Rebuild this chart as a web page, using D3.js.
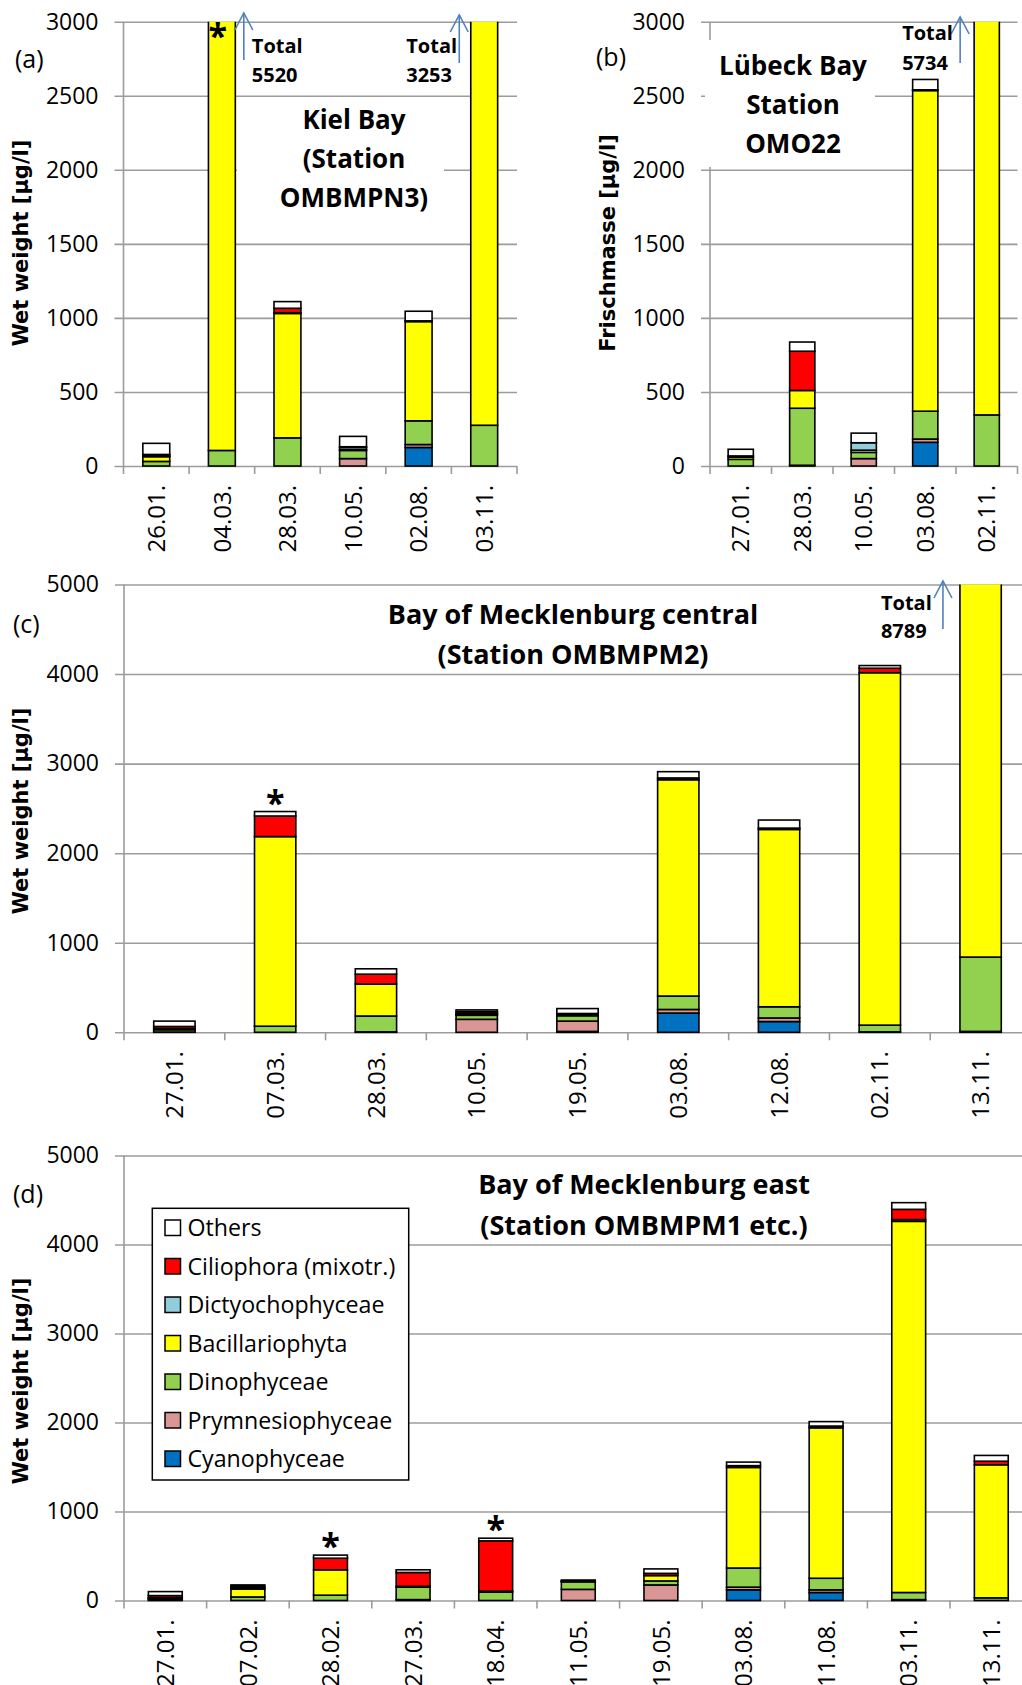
<!DOCTYPE html>
<html><head><meta charset="utf-8">
<script src="https://cdn.jsdelivr.net/npm/d3@7"></script>
<style>
body{margin:0;background:#fff;}
svg{display:block;font-family:'Open Sans',sans-serif;}
</style></head><body>
<svg id="chart" width="1022" height="1685"></svg>
<script>
// ---------- series ----------
const seriesKeys = ["Cyanophyceae","Prymnesiophyceae","Dinophyceae","Bacillariophyta","Dictyochophyceae","Ciliophora (mixotr.)","Others"];
const seriesColors = ["#0070C0","#D99694","#92D050","#FFFF00","#92CDDC","#FF0000","#FFFFFF"];

// ---------- (a) Kiel Bay ----------
const datesA  = ["26.01.","04.03.","28.03.","10.05.","02.08.","03.11."];
const cyanoA  = [0,   0,    0,   0,  125,  0];
const prymA   = [0,   0,    0,   50, 20,   0];
const dinoA   = [31,  105,  190, 55, 160,  275];
const bacilA  = [32,  5395, 840, 5,  670,  2950];
const dictyA  = [5,   0,    5,   15, 0,    0];
const cilioA  = [10,  0,    30,  5,  5,    0];
const othersA = [75,  20,   45,  70, 65,   28];
const ticksA  = [0,500,1000,1500,2000,2500,3000];

// ---------- (b) Lübeck Bay ----------
const datesB  = ["27.01.","28.03.","10.05.","03.08.","02.11."];
const cyanoB  = [0,  0,   0,  160,  0];
const prymB   = [0,  5,   50, 22,   0];
const dinoB   = [45, 385, 42, 188,  345];
const bacilB  = [15, 120, 15, 2165, 5370];
const dictyB  = [0,  0,   50, 0,    0];
const cilioB  = [8,  265, 0,  5,    0];
const othersB = [45, 62,  65, 70,   19];
const ticksB  = [0,500,1000,1500,2000,2500,3000];

// ---------- (c) Bay of Mecklenburg central ----------
const datesC  = ["27.01.","07.03.","28.03.","10.05.","19.05.","03.08.","12.08.","02.11.","13.11."];
const cyanoC  = [0,  0,    0,   0,   10,  215,  120,  0,    0];
const prymC   = [3,  0,    5,   145, 115, 40,   40,   5,    10];
const dinoC   = [25, 68,   177, 45,  60,  150,  125,  75,   830];
const bacilC  = [12, 2117, 357, 10,  15,  2415, 1980, 3935, 7920];
const dictyC  = [0,  0,    0,   10,  0,   0,    0,    0,    0];
const cilioC  = [25, 230,  110, 20,  10,  20,   15,   50,   0];
const othersC = [60, 50,   60,  20,  55,  70,   90,   30,   29];
const ticksC  = [0,1000,2000,3000,4000,5000];

// ---------- (d) Bay of Mecklenburg east ----------
const datesD  = ["27.01.","07.02.","28.02.","27.03.","18.04.","11.05.","19.05.","03.08.","11.08.","03.11.","13.11."];
const cyanoD  = [0,  0,  0,   0,   0,   0,   0,   120,  90,   0,    0];
const prymD   = [10, 0,  0,   10,  0,   125, 175, 30,   30,   10,   0];
const dinoD   = [15, 40, 60,  140, 95,  85,  45,  215,  130,  80,   30];
const bacilD  = [5,  87, 285, 10,  10,  5,   60,  1130, 1690, 4170, 1495];
const dictyD  = [0,  15, 0,   0,   0,   0,   0,   0,    0,    20,   0];
const cilioD  = [25, 18, 130, 155, 565, 5,   25,  20,   20,   115,  40];
const othersD = [45, 15, 35,  30,  30,  10,  50,  40,   50,   75,   65];
const ticksD  = [0,1000,2000,3000,4000,5000];

function toRows(dates, cols){
  return dates.map((d,i)=>{
    const r = {date:d};
    seriesKeys.forEach((k,j)=>{ r[k] = cols[j][i]; });
    return r;
  });
}

const svg = d3.select("#chart");
let clipId = 0;

function drawPanel(p){
  const rows = toRows(p.dates, p.cols);
  const x = d3.scaleBand().domain(p.dates).range([p.x0, p.x1]).paddingInner(0.59).paddingOuter(0.295);
  const y = d3.scaleLinear().domain([0, p.max]).range([p.yZero, p.yTop]);
  const g = svg.append("g");

  // gridlines + y tick labels
  const ya = g.append("g").attr("transform", `translate(${p.x0},0)`)
    .call(d3.axisLeft(y).tickValues(p.ticks).tickSize(-(p.x1 - p.x0)).tickPadding(25).tickFormat(d3.format("d")));
  ya.select(".domain").remove();
  ya.selectAll(".tick line").attr("x1", -9).attr("stroke", "#9c9c9c").attr("stroke-width", 1.6);
  ya.selectAll(".tick text").attr("font-size", 23).attr("font-family", "'Open Sans',sans-serif").attr("fill", "#000");

  // y axis line
  g.append("line").attr("x1", p.x0).attr("x2", p.x0).attr("y1", p.yTop).attr("y2", p.yZero)
    .attr("stroke", "#9c9c9c").attr("stroke-width", 1.6);

  // category tick marks
  const step = x.step();
  g.append("g").selectAll("line").data(d3.range(p.dates.length + 1)).join("line")
    .attr("x1", i => p.x0 + i*step).attr("x2", i => p.x0 + i*step)
    .attr("y1", p.yZero).attr("y2", p.yZero + 8)
    .attr("stroke", "#9c9c9c").attr("stroke-width", 1.6);

  // x labels
  const xa = g.append("g").attr("transform", `translate(0,${p.yZero})`)
    .call(d3.axisBottom(x).tickSize(0));
  xa.select(".domain").remove();
  xa.selectAll(".tick text")
    .attr("y", 0).attr("x", -19).attr("dy", "0.36em")
    .attr("transform", "rotate(-90)").style("text-anchor", "end")
    .attr("font-size", 24).attr("font-family", "'Open Sans',sans-serif").attr("fill", "#000");

  // white title box
  if (p.box){
    g.append("rect").attr("x", p.box[0]).attr("y", p.box[1]).attr("width", p.box[2]).attr("height", p.box[3]).attr("fill", "#fff");
  }

  // bars
  const id = "clip" + (clipId++);
  svg.append("clipPath").attr("id", id).append("rect")
    .attr("x", p.x0).attr("y", p.yTop).attr("width", p.x1 - p.x0).attr("height", p.yZero - p.yTop + 2);
  const stacked = d3.stack().keys(seriesKeys)(rows);
  g.append("g").attr("clip-path", `url(#${id})`)
    .selectAll("g").data(stacked).join("g")
    .attr("fill", (d,i) => seriesColors[i])
    .selectAll("rect").data(d => d.filter(s => s[1] - s[0] > 0)).join("rect")
    .attr("x", d => x(d.data.date)).attr("width", x.bandwidth())
    .attr("y", d => y(d[1])).attr("height", d => y(d[0]) - y(d[1]))
    .attr("stroke", "#000").attr("stroke-width", 1.6);

  // axis label
  g.append("text").attr("transform", `translate(${p.ylab[0]},${p.ylab[1]}) rotate(-90)`)
    .attr("text-anchor", "middle").attr("font-family", "'DejaVu Sans',sans-serif").attr("font-weight", "bold")
    .attr("font-size", 21).text(p.ylabel);

  // panel letter
  g.append("text").attr("x", p.letter[0]).attr("y", p.letter[1]).attr("font-size", 25).text(p.letterText);

  // title
  p.title.forEach((t,i) => {
    g.append("text").attr("x", p.titlePos[0]).attr("y", p.titlePos[1] + i*p.titlePos[2])
      .attr("text-anchor", "middle").attr("font-weight", "bold").attr("font-size", p.titleSize).text(t);
  });

  // totals with arrows
  (p.totals || []).forEach(t => {
    const bx = x(t.date);
    const ax = t.side === "right" ? bx + x.bandwidth() + t.off : bx - t.off;
    const a = g.append("g").attr("stroke", "#4F81BD").attr("stroke-width", 1.6).attr("fill", "none");
    a.append("line").attr("x1", ax).attr("x2", ax).attr("y1", t.ay[1]).attr("y2", t.ay[0]);
    a.append("path").attr("d", `M${ax-9},${t.ay[0]+17}L${ax},${t.ay[0]}L${ax+9},${t.ay[0]+17}`);
    const tx = ax + t.tdx;
    g.append("text").attr("x", tx).attr("y", t.ty).attr("font-weight", "bold").attr("font-size", 20).text("Total");
    g.append("text").attr("x", tx).attr("y", t.ty + t.tl).attr("font-weight", "bold").attr("font-size", 20).text(t.value);
  });

  // asterisks
  (p.stars || []).forEach(s => {
    const total = seriesKeys.reduce((acc,k)=>acc + rows[p.dates.indexOf(s.date)][k], 0);
    const cy = s.inside ? p.yTop + 9 : y(total) - 14;
    g.append("text").attr("x", x(s.date) + x.bandwidth()/2 + (s.dx||0)).attr("y", cy + 17)
      .attr("text-anchor", "middle").attr("font-size", 34).attr("font-weight", "bold").text("*");
  });
  return {x, y};
}

drawPanel({
  dates: datesA, cols: [cyanoA,prymA,dinoA,bacilA,dictyA,cilioA,othersA], ticks: ticksA, max: 3000,
  x0: 123.5, x1: 517, yTop: 21.7, yZero: 466,
  box: [237, 100, 207, 125],
  ylabel: "Wet weight [µg/l]", ylab: [28, 243],
  letterText: "(a)", letter: [15, 68],
  title: ["Kiel Bay", "(Station", "OMBMPN3)"], titlePos: [354, 129, 39], titleSize: 26,
  totals: [
    {date: "04.03.", side: "right", off: 8.5, ay: [13, 60], tdx: 8, ty: 53, tl: 29, value: "5520"},
    {date: "03.11.", side: "left", off: 11.5, ay: [15, 63], tdx: -53, ty: 53, tl: 29, value: "3253"}
  ],
  stars: [{date: "04.03.", inside: true, dx: -4}]
});

drawPanel({
  dates: datesB, cols: [cyanoB,prymB,dinoB,bacilB,dictyB,cilioB,othersB], ticks: ticksB, max: 3000,
  x0: 710, x1: 1017.5, yTop: 21.7, yZero: 466,
  box: [705, 40, 170, 127],
  ylabel: "Frischmasse [µg/l]", ylab: [615, 243],
  letterText: "(b)", letter: [596, 66],
  title: ["Lübeck Bay", "Station", "OMO22"], titlePos: [793, 75, 39], titleSize: 26,
  totals: [
    {date: "02.11.", side: "left", off: 14, ay: [17, 63], tdx: -58, ty: 40, tl: 30, value: "5734"}
  ]
});

drawPanel({
  dates: datesC, cols: [cyanoC,prymC,dinoC,bacilC,dictyC,cilioC,othersC], ticks: ticksC, max: 5000,
  x0: 124, x1: 1031, yTop: 584.5, yZero: 1032.3,
  ylabel: "Wet weight [µg/l]", ylab: [28, 811],
  letterText: "(c)", letter: [13, 633],
  title: ["Bay of Mecklenburg central", "(Station OMBMPM2)"], titlePos: [573, 624, 39.5], titleSize: 27,
  totals: [
    {date: "13.11.", side: "left", off: 17, ay: [581, 629], tdx: -62, ty: 610, tl: 28, value: "8789"}
  ],
  stars: [{date: "07.03."}]
});

drawPanel({
  dates: datesD, cols: [cyanoD,prymD,dinoD,bacilD,dictyD,cilioD,othersD], ticks: ticksD, max: 5000,
  x0: 124, x1: 1032.6, yTop: 1155.5, yZero: 1600.5,
  ylabel: "Wet weight [µg/l]", ylab: [28, 1381],
  letterText: "(d)", letter: [13, 1203],
  title: ["Bay of Mecklenburg east", "(Station OMBMPM1 etc.)"], titlePos: [644, 1194, 41], titleSize: 27,
  stars: [{date: "28.02."}, {date: "18.04."}]
});

// legend (panel d)
const legendKeys = [...seriesKeys].reverse();
const legendColors = [...seriesColors].reverse();
const lg = svg.append("g");
lg.append("rect").attr("x", 152.3).attr("y", 1208.3).attr("width", 256.4).attr("height", 271.7)
  .attr("fill", "#fff").attr("stroke", "#000").attr("stroke-width", 1.5);
const li = lg.selectAll("g.li").data(legendKeys).join("g").attr("class", "li")
  .attr("transform", (d,i) => `translate(0,${1228 + i*38.5})`);
li.append("rect").attr("x", 165).attr("y", -8).attr("width", 15.5).attr("height", 15.5)
  .attr("fill", (d,i) => legendColors[i]).attr("stroke", "#000").attr("stroke-width", 1.5);
li.append("text").attr("x", 187.5).attr("dy", "0.36em").attr("font-size", 23.2).text(d => d);
</script>
</body></html>
